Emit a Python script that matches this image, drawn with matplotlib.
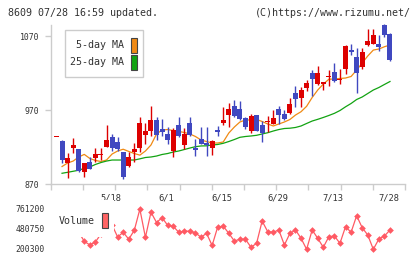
import numpy as np
import matplotlib
matplotlib.use("Agg")
import matplotlib.pyplot as plt
from matplotlib.patches import Rectangle
from matplotlib.transforms import blended_transform_factory

# ---------------- data ----------------
opens = [933, 928.5, 898.8, 919, 917.3, 886.6, 900.2, 905.1, 909.5, 920.5,
         933, 926.8, 913.2, 894.3, 913.6, 919, 936.6, 942, 956.5, 944.3,
         937.6, 914.6, 949.7, 922.7, 952.4, 918, 930.8, 925.4, 918.6, 943,
         952.4, 963.2, 975.4, 971.4, 959.2, 941.6, 963.2, 949.7, 954, 951,
         971.4, 964.6, 966, 993, 986.6, 999.7, 1020, 1005, 1005, 1014.6,
         1021.6, 1010.5, 1025.4, 1051, 1041.6, 1028.1, 1057.8, 1059.2, 1059.2, 1084.9,
         1072.7]
highs = [933, 929.5, 912, 932, 917.5, 899, 906, 918.6, 918.6, 949.7,
         937.6, 933.5, 913.5, 913, 925.4, 960.5, 952.4, 975.4, 961, 957.5,
         947, 945.7, 960.5, 945.7, 960.5, 930.8, 947, 947, 929, 948.4,
         974, 979.5, 983.5, 982.2, 961, 964.6, 963.5, 955, 962, 970,
         975.4, 970, 986.2, 1002.4, 1001, 1010.5, 1024, 1029.5, 1008.5, 1024,
         1033.5, 1025.4, 1058, 1059.2, 1053.8, 1053.8, 1079.5, 1079.5, 1071.4, 1086,
         1074]
lows = [933, 898, 878.6, 912.3, 885.8, 879, 890, 900, 903, 920,
        915, 915, 877, 892.5, 900, 913.6, 924, 935, 930, 935.5,
        924, 906, 934, 917.3, 935, 907.4, 923.5, 908, 909, 935,
        949.7, 947, 960.5, 957, 944.3, 939, 941, 927, 940.3, 950.5,
        951, 957, 964.6, 974, 974.5, 996, 989, 1004, 997, 1002.4,
        1008, 1005, 1018.6, 1044.3, 993, 1025.4, 1057, 1059, 1049.7, 1069,
        1036.2]
closes = [933, 902.4, 905.1, 922.7, 888, 898, 890.7, 910.5, 910.5, 929.5,
          919, 917.3, 879.9, 906.5, 917.3, 952.4, 942, 956.5, 936.2, 940,
          929.5, 943, 935, 937.6, 936.2, 916.5, 924, 922.7, 928.1, 940.3,
          956.5, 971.4, 962, 957.8, 947, 961.9, 941.6, 939, 955, 959.2,
          963.2, 957.8, 978.1, 985, 997, 1006.5, 1012, 1020, 1007.8, 1016,
          1009, 1012, 1056.5, 1048.4, 1020, 1048.4, 1063.2, 1071.4, 1055.1, 1071.4,
          1037.6]
ma5 = [np.nan, 893.6, 898.4, 901, 906.5, 910, 904.5, 901.8, 900.4, 902.4,
       910.5, 914.6, 917, 914, 911.2, 909, 914.6, 922.7, 937.6, 943,
       943.6, 942.3, 941, 939.6, 937.6, 934.2, 929.5, 927.4, 925.4, 925.4,
       926.8, 938.9, 947, 953.8, 956.5, 956.5, 957.2, 954.5, 951.1, 948.4,
       951.1, 953.8, 957.2, 963.2, 967.7, 975, 986.9, 997, 1005, 1011.5,
       1012, 1012.6, 1013.2, 1015.3, 1024, 1033.5, 1043, 1051, 1052.4, 1055.5,
       1057.8]
ma25 = [np.nan, 884.5, 885.8, 887.2, 888.6, 891.2, 893, 896.4, 899, 901,
        902.4, 902.4, 902.4, 902.4, 902.4, 904, 905.8, 906.5, 907.8, 909.9,
        911.2, 913.2, 914.6, 916.6, 918.6, 920.4, 921.4, 921.6, 922.7, 923.4,
        925, 927.4, 930.1, 933.1, 934.2, 934.9, 935.8, 937.6, 939.3, 941.6,
        943.6, 945, 945.4, 946.4, 948.4, 951.8, 955.1, 957.4, 959.9, 962.6,
        965.5, 969.3, 974.3, 978.8, 984.2, 987.6, 992.3, 997, 1000.4, 1004.5,
        1008.5]
volume = [520000, 480000, 560000, 450000, 430000, 300200, 247400, 290200, 404400, 420000,
          532800, 361600, 428700, 330200, 457200, 758300, 357300, 715500, 568500, 637000,
          528600, 514300, 428700, 447200, 442900, 421500, 357300, 414400, 240300, 504300,
          515700, 414400, 304500, 328700, 328700, 214600, 271700, 589900, 437200, 428700,
          461500, 247400, 414400, 461500, 343000, 186000, 461500, 343000, 214600, 365900,
          375800, 271700, 508600, 428700, 665600, 494300, 390100, 186000, 333000, 375800,
          461500]
date_labels = ["5/18", "6/1", "6/15", "6/29", "7/13", "7/28"]
date_label_idx = [10, 20, 30, 40, 50, 60]
price_ticks = [870, 970, 1070]
vol_ticks = [200300, 480750, 761200]

# ---------------- layout ----------------
W, H = 420, 259
DPI = 100
fig = plt.figure(figsize=(W / DPI, H / DPI), dpi=DPI)
fig.patch.set_facecolor("white")
FONT = "DejaVu Sans Mono"
TXT = "#333333"
GRID = "#cccccc"
RED = "#dd0000"
BLUE = "#4048c0"
ORANGE = "#f08a14"
GREEN = "#12a312"
VOLC = "#ff5a64"
PX = 0.72  # one pixel in points


def fx(px):
    return px / W


def fy(py):
    return 1 - py / H


L, R, T, B = 50.7, 405.0, 25.0, 184.0
ax = fig.add_axes([fx(L), fy(B), fx(R - L), (B - T) / H])
xmin, xmax = -1.04, 62.7
ax.set_xlim(xmin, xmax)
ax.set_ylim(870, 870 + (B - T) / 0.74)
ax.set_facecolor("white")
for s in ["top", "right"]:
    ax.spines[s].set_visible(False)
for s in ["left", "bottom"]:
    ax.spines[s].set_color(GRID)
    ax.spines[s].set_linewidth(1.0)
ax.set_xticks(np.linspace(xmin, xmax, 12))
ax.set_xticklabels([])
ax.set_yticks(price_ticks)
ax.set_yticklabels([str(t) for t in price_ticks], fontsize=5.9, family=FONT, color=TXT)
ax.tick_params(axis="both", direction="out", length=6 * PX, width=1.0, color=GRID)
ax.tick_params(axis="y", pad=5.4 * PX)

x = np.arange(len(closes))
for i in x:
    o, h, l, c = opens[i], highs[i], lows[i], closes[i]
    col = RED if c >= o else BLUE
    ax.vlines(i, l, h, color=col, linewidth=1.0, zorder=3, clip_on=False)
    lo_b = min(o, c)
    hb = max(abs(c - o), 1.4)
    ax.bar(i, hb, bottom=lo_b, width=0.9, color=col, linewidth=0, zorder=4, clip_on=False)

ax.plot(x, ma5, color=ORANGE, linewidth=0.9, zorder=2)
ax.plot(x, ma25, color=GREEN, linewidth=0.9, zorder=2)

# x date labels
tr = blended_transform_factory(ax.transData, fig.transFigure)
for lab, idx in zip(date_labels, date_label_idx):
    ax.text(idx - 0.2, fy(198.3), lab, transform=tr, ha="center", va="center",
            fontsize=6.3, family=FONT, color=TXT, clip_on=False)

# main legend box
ax.add_patch(Rectangle((fx(65.3), fy(77.3)), fx(143.3 - 65.3), (77.3 - 30) / H,
                       transform=fig.transFigure, facecolor="white", edgecolor=GRID,
                       linewidth=1.0, zorder=10, clip_on=False))
for lab, col, yc in [("5-day MA", ORANGE, 45.0), ("25-day MA", GREEN, 62.0)]:
    fig.text(fx(124.5), fy(yc), lab, ha="right", va="center", fontsize=7.2,
             family=FONT, color=TXT, zorder=11)
    ax.add_patch(Rectangle((fx(131.3), fy(yc + 7.5)), fx(6), 15 / H,
                           transform=fig.transFigure, facecolor=col, edgecolor="#444444",
                           linewidth=0.8, zorder=11, clip_on=False))

# title texts
fig.text(fx(8), fy(12.5), "8609 07/28 16:59 updated.", ha="left", va="center",
         fontsize=7.2, family=FONT, color=TXT)
fig.text(fx(410.5), fy(12.5), "(C)https://www.rizumu.net/", ha="right", va="center",
         fontsize=7.2, family=FONT, color=TXT)

# ---------------- volume panel ----------------
VT, VB = 200.0, 256.0


def vval(py):
    return 200300 + (248.3 - py) * (280450 / 19.65)


vax = fig.add_axes([fx(L), fy(VB), fx(R - L), (VB - VT) / H])
vax.set_xlim(xmin, xmax)
vax.set_ylim(vval(VB), vval(VT))
for s in vax.spines.values():
    s.set_visible(False)
vax.set_xticks([])
vax.set_yticks(vol_ticks)
vax.set_yticklabels([str(t) for t in vol_ticks], fontsize=5.9, family=FONT, color=TXT)
vax.tick_params(axis="y", length=0, pad=6.2 * PX)
vax.set_facecolor("none")
vax.plot(x, volume, color=VOLC, linewidth=0.9, marker="D", markersize=3.4,
         markeredgewidth=0, markerfacecolor=VOLC, zorder=3, clip_on=False)
# white legend area covering the first points
vax.add_patch(Rectangle((fx(50), fy(237)), fx(114 - 50), (237 - 200) / H,
                        transform=fig.transFigure, facecolor="white", edgecolor="none",
                        zorder=8, clip_on=False))
fig.text(fx(94.8), fy(221.5), "Volume", ha="right", va="center", fontsize=7.2,
         family=FONT, color=TXT, zorder=11)
vax.add_patch(Rectangle((fx(101.7), fy(228.3)), fx(6), 15.3 / H,
                        transform=fig.transFigure, facecolor="#ff6464", edgecolor="#444444",
                        linewidth=0.8, zorder=11, clip_on=False))

fig.savefig("out.png", dpi=DPI, facecolor="white")
